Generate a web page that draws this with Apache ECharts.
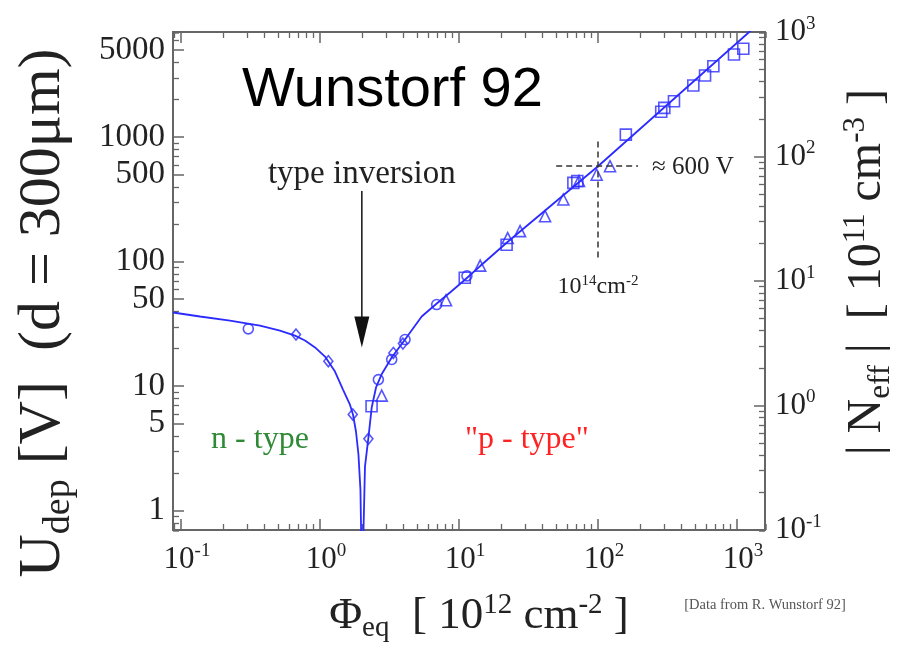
<!DOCTYPE html>
<html>
<head>
<meta charset="utf-8">
<script src="https://cdn.jsdelivr.net/npm/echarts@6/dist/echarts.min.js"></script>
<style>
  html, body { margin: 0; padding: 0; background: #fff; }
  #chart { width: 908px; height: 653px; }
</style>
</head>
<body>
<div id="chart"></div>
<script>
// axis ranges: fluence [1e12 cm^-2], U_dep [V], |Neff| [1e11 cm^-3]
const phiRange = [0.0876, 1590]
const uRange = [0.7, 7000]
const nRange = [0.1, 1000]
const minorSteps = [2, 3, 4, 5, 6, 7, 8, 9]
const leftMinorSteps = [2, 3, 4, 6, 7, 8, 9]

// fit line [phi, U]
const fitCurve = [
  [0.0876, 39.1], [0.137, 36.3], [0.225, 33.7], [0.37, 30.7], [0.515, 28.0],
  [0.661, 25.5], [0.78, 23.3], [0.921, 20.5], [1.086, 17.3], [1.282, 13.1],
  [1.464, 9.4], [1.643, 7.1], [1.727, 5.93], [1.815, 4.33], [1.891, 2.83],
  [1.954, 1.48], [2.0, 0.3], [2.056, 0.7], [2.107, 2.26], [2.226, 3.8],
  [2.355, 6.74], [2.53, 9.77], [2.79, 12.6], [3.28, 17.0], [4.09, 23.7],
  [5.39, 36.3], [6.92, 46.2], [8.62, 56.6], [10.87, 70.6], [14.2, 92.3],
  [22.0, 142], [100, 585], [1241, 7100], [1727, 9860]
]
// measured points, one array per marker shape
const circlePts = [[0.305, 28.9], [2.63, 11.3], [3.28, 16.4], [4.09, 23.7], [6.91, 45.3], [11.4, 77]]
const diamondPts = [[0.672, 26.0], [1.148, 15.9], [1.72, 5.93], [2.23, 3.78], [3.37, 18.5], [3.95, 22.0]]
const trianglePts = [[2.78, 8.4], [8.06, 49.1], [14.2, 93], [22.4, 155], [27.5, 176], [41.6, 232], [56.3, 316], [73, 445], [97.8, 500], [122, 585]]
const squarePts = [[2.35, 6.9], [11.0, 74.3], [22.0, 137], [66.5, 430], [71, 445], [158.6, 1050], [285, 1600], [300, 1720], [352, 1946], [485, 2600], [589, 3135], [676, 3716], [951, 4613], [1110, 5130]]

// guide lines at 1e14 cm^-2 / ~600 V
const guideV = [[100, 923], [100, 108]]
const guideH = [[50, 585], [194, 585]]
const inversionPhi = 2.0

const blue = '#2b2bff'
const frame = '#666'
const ink = '#222'
const serif = "'Liberation Serif', 'Times New Roman', serif"
const sans = "'Liberation Sans', Arial, sans-serif"

let chart = echarts.init(document.getElementById('chart'))

function isDecade(v) {
  let e = Math.log10(v)
  return Math.abs(e - Math.round(e)) < 1e-6
}
function powLabel(v) {
  if (!isDecade(v)) return ''
  return '{b|10}{s|' + Math.round(Math.log10(v)) + '}'
}
const supRich = {
  b: { fontFamily: serif, fontSize: 31, color: ink, padding: [0, 0, 0, 12] },
  s: { fontFamily: serif, fontSize: 19, color: ink, padding: [0, 0, 16, 0] }
}

function baseAxis(pos, range, extra) {
  return Object.assign({
    type: 'log', logBase: 10, gridIndex: 0, position: pos,
    min: range[0], max: range[1],
    axisLine: { show: false, onZero: false },
    axisTick: { show: true, inside: true, length: 6, lineStyle: { color: frame, width: 1.3 } },
    axisLabel: { show: false },
    splitLine: { show: false },
    nameMoveOverlap: false,
    silent: true
  }, extra)
}
function majorAxis(pos, range, label) {
  return baseAxis(pos, range, {
    axisLine: { show: true, onZero: false, lineStyle: { color: frame, width: 2 } },
    axisTick: { show: true, inside: true, length: 11, lineStyle: { color: frame, width: 1.5 } },
    axisLabel: label || { show: false }
  })
}

let xAxes = [
  majorAxis('bottom', phiRange, { show: true, margin: 12, formatter: powLabel, rich: supRich }),
  majorAxis('top', phiRange)
]
minorSteps.forEach(m => {
  let r = [phiRange[0] / m, phiRange[1] / m]
  xAxes.push(baseAxis('bottom', r), baseAxis('top', r))
})
Object.assign(xAxes[0], {
  name: '{t|Φ}{sub|eq}{t|  [ 10}{sup|12}{t| cm}{sup|-2}{t| ]}',
  nameLocation: 'middle',
  nameGap: 60,
  nameTextStyle: {
    padding: [0, 0, 0, 20],
    rich: {
      t: { fontFamily: serif, fontSize: 45, color: ink },
      sub: { fontFamily: serif, fontSize: 29, color: ink, padding: [24, 0, 0, 0] },
      sup: { fontFamily: serif, fontSize: 29, color: ink, padding: [0, 0, 22, 0] }
    }
  }
})

let leftLabel = { show: true, margin: 8, fontFamily: serif, fontSize: 33, color: ink }
let yAxes = [
  majorAxis('left', uRange, Object.assign({ formatter: v => isDecade(v) ? String(Math.round(v)) : '' }, leftLabel)),
  majorAxis('left', [uRange[0] / 5, uRange[1] / 5], Object.assign({ formatter: v => isDecade(v) ? String(Math.round(v * 5)) : '' }, leftLabel)),
  majorAxis('right', nRange, { show: true, margin: 10, formatter: powLabel, rich: {
    b: { fontFamily: serif, fontSize: 31, color: ink },
    s: supRich.s
  } })
]
leftMinorSteps.forEach(m => yAxes.push(baseAxis('left', [uRange[0] / m, uRange[1] / m])))
minorSteps.forEach(m => yAxes.push(baseAxis('right', [nRange[0] / m, nRange[1] / m])))

Object.assign(yAxes[0], {
  name: '{t|U}{sub|dep}{t| [V]  (d = 300μm)}',
  nameLocation: 'middle',
  nameRotate: 90,
  nameGap: 95,
  nameTextStyle: {
    padding: [0, 64, 0, 0],
    rich: {
      t: { fontFamily: serif, fontSize: 60, color: ink },
      sub: { fontFamily: serif, fontSize: 38, color: ink, padding: [32, 0, 0, 0] }
    }
  }
})
Object.assign(yAxes[2], {
  name: '{t|| N}{sub|eff}{t| |  [ 10}{sup|11}{t| cm}{sup|-3}{t| ]}',
  nameLocation: 'middle',
  nameRotate: 90,
  nameGap: 74,
  nameTextStyle: {
    padding: [0, 0, 0, 18],
    rich: {
      t: { fontFamily: serif, fontSize: 48, color: ink },
      sub: { fontFamily: serif, fontSize: 31, color: ink, padding: [26, 0, 0, 0] },
      sup: { fontFamily: serif, fontSize: 31, color: ink, padding: [0, 0, 24, 0] }
    }
  }
})

function pointSeries(name, symbol, size, data) {
  return {
    name: name, type: 'scatter', xAxisIndex: 0, yAxisIndex: 0,
    symbol: symbol, symbolSize: size, data: data, z: 4,
    itemStyle: { color: 'rgba(255,255,255,0)', borderColor: blue, borderWidth: 1.6 }
  }
}

option = {
  animation: false,
  backgroundColor: '#fff',
  title: {
    text: 'Wunstorf 92', left: 237, top: 58,
    textStyle: { fontFamily: sans, fontSize: 56, fontWeight: 'normal', color: '#000' }
  },
  grid: { left: 173, right: 143, top: 32, bottom: 123 },
  xAxis: xAxes,
  yAxis: yAxes,
  series: [
    {
      name: 'fit', type: 'line', xAxisIndex: 0, yAxisIndex: 0,
      data: fitCurve, showSymbol: false, smooth: false, z: 3,
      lineStyle: { color: blue, width: 1.8 },
      markLine: {
        silent: true, symbol: 'none', label: { show: false },
        lineStyle: { color: '#333', width: 1.5, type: [6, 4] },
        data: [
          [{ coord: guideV[0] }, { coord: guideV[1] }],
          [{ coord: guideH[0] }, { coord: guideH[1] }]
        ]
      }
    },
    pointSeries('circles', 'circle', 10, circlePts),
    pointSeries('diamonds', 'diamond', [9, 11], diamondPts),
    pointSeries('triangles', 'triangle', 11, trianglePts),
    pointSeries('squares', 'rect', 11, squarePts)
  ]
}
chart.setOption(option)

// annotations placed through the same axes
const px = (phi, u) => chart.convertToPixel({ xAxisIndex: 0, yAxisIndex: 0 }, [phi, u])
let arrowTop = px(inversionPhi, 370)
let arrowTip = px(inversionPhi, 20.5)
let nTypePos = px(0.37, 3.73)
let pTypePos = px(30.8, 3.73)
let voltPos = px(100, 585)
let fluPos = px(100, 63)

chart.setOption({
  graphic: [
    { type: 'line', shape: { x1: arrowTop[0], y1: arrowTop[1], x2: arrowTip[0], y2: arrowTip[1] - 28 },
      style: { stroke: '#111', lineWidth: 1.5 } },
    { type: 'polygon', shape: { points: [[arrowTip[0] - 7.5, arrowTip[1] - 31], [arrowTip[0] + 7.5, arrowTip[1] - 31], [arrowTip[0], arrowTip[1]]] },
      style: { fill: '#111' } },
    { type: 'text', x: arrowTop[0], y: arrowTop[1] - 17,
      style: { text: 'type inversion', fontFamily: serif, fontSize: 33, fill: ink, align: 'center', verticalAlign: 'middle' } },
    { type: 'text', x: voltPos[0] + 54, y: voltPos[1] + 1,
      style: { text: '≈ 600 V', fontFamily: serif, fontSize: 25, fill: ink, align: 'left', verticalAlign: 'middle' } },
    { type: 'text', x: fluPos[0], y: fluPos[1],
      style: { text: '{b|10}{s|14}{b|cm}{s|-2}', align: 'center', verticalAlign: 'middle',
        rich: {
          b: { fontFamily: serif, fontSize: 24, fill: ink, color: ink },
          s: { fontFamily: serif, fontSize: 15, fill: ink, color: ink, padding: [0, 0, 11, 0] }
        } } },
    { type: 'text', x: nTypePos[0], y: nTypePos[1],
      style: { text: 'n - type', fontFamily: serif, fontSize: 32, fill: '#2f8a35', align: 'center', verticalAlign: 'middle' } },
    { type: 'text', x: pTypePos[0], y: pTypePos[1],
      style: { text: '"p - type"', fontFamily: serif, fontSize: 32, fill: '#ff2222', align: 'center', verticalAlign: 'middle' } },
    { type: 'text', x: 765, y: 605,
      style: { text: '[Data from R. Wunstorf 92]', fontFamily: serif, fontSize: 14.5, fill: '#555', align: 'center', verticalAlign: 'middle' } }
  ]
})
</script>
</body>
</html>
